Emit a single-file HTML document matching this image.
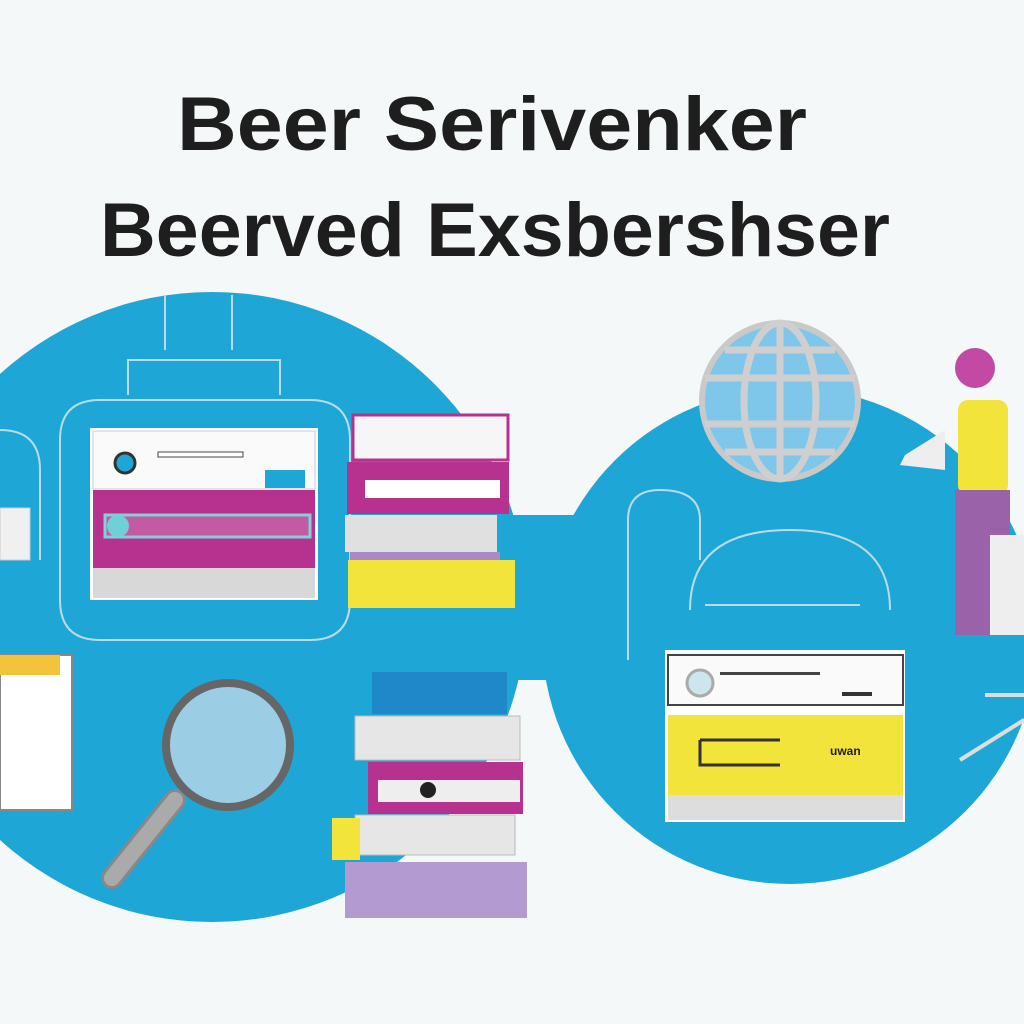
<!DOCTYPE html>
<html><head><meta charset="utf-8"><style>
html,body{margin:0;padding:0;background:#f4f8f9;}
svg{display:block}
text{font-family:"Liberation Sans",sans-serif;font-weight:bold;fill:#1e1e1e}
</style></head><body>
<svg width="1024" height="1024" viewBox="0 0 1024 1024" xmlns="http://www.w3.org/2000/svg">
<rect width="1024" height="1024" fill="#f4f8f9"/>
<text x="492" y="150" font-size="76" text-anchor="middle" textLength="630" lengthAdjust="spacingAndGlyphs">Beer Serivenker</text>
<text x="495" y="256" font-size="76" text-anchor="middle" textLength="790" lengthAdjust="spacingAndGlyphs">Beerved Exsbershser</text>
<!-- blue shapes -->
<circle cx="212" cy="607" r="315" fill="#1ea6d6"/>
<circle cx="790" cy="636" r="248" fill="#1ea6d6"/>
<rect x="440" y="515" width="180" height="165" fill="#1ea6d6"/>
<!-- outline lines left -->
<g fill="none" stroke="#b9dbe6" stroke-width="2">
<path d="M165 295 V350 M232 295 V350"/>
<path d="M128 395 V360 H280 V395"/>
<path d="M60 600 V440 Q60 400 100 400 H310 Q350 400 350 440 V600 Q350 640 310 640 H100 Q60 640 60 600"/>
<path d="M0 430 Q40 430 40 470 V560"/>
<path d="M628 660 V520 Q628 490 660 490 Q700 490 700 520 V560"/>
<path d="M690 610 Q690 530 790 530 Q890 530 890 610"/>
<path d="M705 605 H860"/>
</g>
<!-- left device -->
<rect x="90" y="428" width="228" height="172" fill="#fff"/>
<rect x="93" y="431" width="222" height="58" fill="#fafafa" stroke="#ccc"/>
<circle cx="125" cy="463" r="10" fill="#1ea6d6" stroke="#333" stroke-width="3"/>
<rect x="158" y="452" width="85" height="5" fill="#fff" stroke="#444"/>
<rect x="265" y="470" width="40" height="18" fill="#1ea6d6"/>
<rect x="93" y="490" width="222" height="78" fill="#b7318f"/>
<rect x="105" y="515" width="205" height="22" fill="#c45aa4" stroke="#7dd3d8" stroke-width="3"/>
<circle cx="118" cy="526" r="11" fill="#6fd0d8"/>
<rect x="93" y="568" width="222" height="30" fill="#d8d8d8"/>
<!-- books right of device -->
<rect x="353" y="415" width="155" height="45" fill="#f6f6f6" stroke="#b7318f" stroke-width="3"/>
<rect x="347" y="462" width="162" height="52" fill="#b7318f"/>
<rect x="365" y="480" width="135" height="18" fill="#fff"/>
<rect x="345" y="515" width="152" height="37" fill="#e0e0e0"/>
<rect x="350" y="552" width="150" height="8" fill="#a98ac8"/>
<rect x="348" y="560" width="167" height="48" fill="#f3e43b"/>
<!-- small left items -->
<rect x="0" y="508" width="30" height="52" fill="#f0f0f0" stroke="#ccc"/>
<rect x="0" y="655" width="72" height="155" fill="#fff" stroke="#888" stroke-width="2"/>
<rect x="0" y="655" width="60" height="20" fill="#f3c43b"/>
<!-- magnifier -->
<line x1="175" y1="800" x2="112" y2="878" stroke="#888" stroke-width="22" stroke-linecap="round"/>
<line x1="175" y1="800" x2="112" y2="878" stroke="#aaa" stroke-width="16" stroke-linecap="round"/>
<circle cx="228" cy="745" r="62" fill="#9bcde4" stroke="#666" stroke-width="8"/>
<!-- bottom stack -->
<rect x="372" y="672" width="135" height="42" fill="#1e88c8"/>
<rect x="355" y="716" width="165" height="44" fill="#e6e6e6" stroke="#bbb"/>
<rect x="368" y="762" width="155" height="52" fill="#b7318f"/>
<rect x="378" y="780" width="142" height="22" fill="#eee"/>
<circle cx="428" cy="790" r="8" fill="#222"/>
<rect x="355" y="815" width="160" height="40" fill="#e6e6e6" stroke="#bbb"/>
<rect x="332" y="818" width="28" height="42" fill="#f3e43b"/>
<rect x="345" y="862" width="182" height="56" fill="#b39ad0"/>
<!-- globe -->
<circle cx="780" cy="401" r="78" fill="#7fc7ea" stroke="#c9c9c9" stroke-width="6"/>
<g stroke="#cfcfcf" stroke-width="7" fill="none">
<ellipse cx="780" cy="401" rx="36" ry="78"/>
<line x1="780" y1="323" x2="780" y2="479"/>
<line x1="705" y1="378" x2="855" y2="378"/>
<line x1="705" y1="424" x2="855" y2="424"/>
<line x1="725" y1="350" x2="835" y2="350"/>
<line x1="725" y1="452" x2="835" y2="452"/>
</g>
<!-- person -->
<circle cx="975" cy="368" r="20" fill="#c24aa4"/>
<rect x="958" y="400" width="50" height="95" rx="10" fill="#f3e43b"/>
<path d="M945 430 L905 455 L900 465 L945 470 Z" fill="#eee"/>
<rect x="955" y="490" width="55" height="145" fill="#9a62a8"/>
<rect x="990" y="535" width="34" height="100" fill="#eee"/>
<!-- right device -->
<rect x="665" y="650" width="240" height="172" fill="#fff"/>
<rect x="668" y="655" width="235" height="50" fill="#fafafa" stroke="#444" stroke-width="2"/>
<circle cx="700" cy="683" r="13" fill="#cde6ee" stroke="#aaa" stroke-width="3"/>
<rect x="720" y="672" width="100" height="3" fill="#444"/>
<rect x="842" y="692" width="30" height="4" fill="#333"/>
<rect x="668" y="715" width="235" height="80" fill="#f3e43b"/>
<path d="M700 740 H780 M700 740 V765 H780" stroke="#333" stroke-width="3" fill="none"/>
<text x="830" y="755" font-size="12" fill="#333">uwan</text>
<rect x="668" y="795" width="235" height="25" fill="#ddd"/>
<path d="M960 760 L1024 720 M985 695 H1024" stroke="#ddd" stroke-width="4"/>
</svg>
</body></html>
